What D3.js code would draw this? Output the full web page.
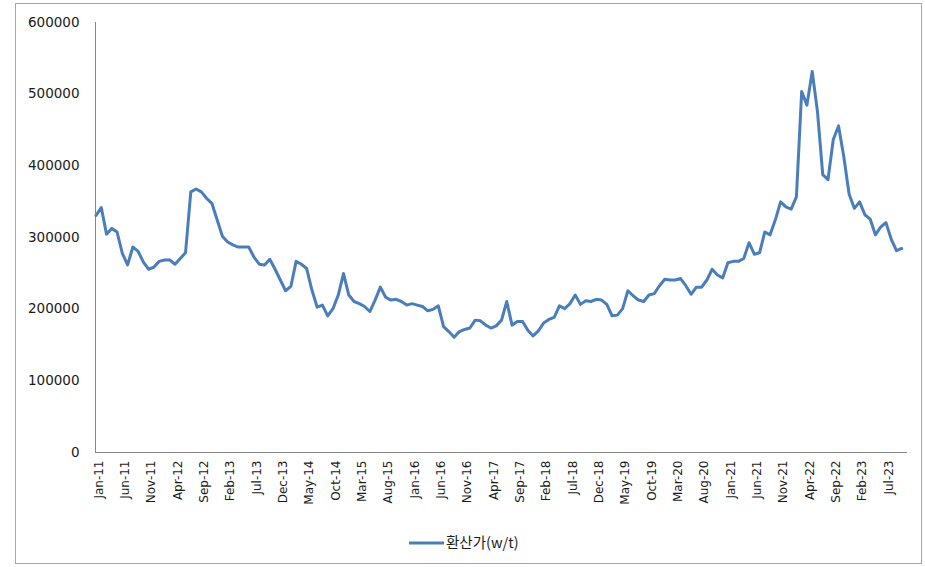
<!DOCTYPE html>
<html>
<head>
<meta charset="utf-8">
<script src="https://cdn.jsdelivr.net/npm/d3@7"></script>
<style>
  html, body { margin: 0; padding: 0; background: #fff; }
  svg { display: block; }
</style>
</head>
<body>
<svg id="chart" width="925" height="567"></svg>
<script>
// ---- data ----
const monthNames = ["Jan","Feb","Mar","Apr","May","Jun","Jul","Aug","Sep","Oct","Nov","Dec"];
const startYear = 2011;
const categoryCount = 155; // Jan-11 .. Nov-23
const categories = d3.range(categoryCount).map(i =>
  monthNames[i % 12] + "-" + String((startYear + Math.floor(i / 12)) % 100).padStart(2, "0"));

const seriesName = "환산가(w/t)";
const values = [
  330000, 341000, 304000, 312000, 307000, 277000, 261000, 286000, 280000, 265000,
  255000, 258000, 266000, 268000, 268000, 262000, 270000, 278000, 363000, 367000,
  363000, 354000, 347000, 324000, 301000, 293000, 289000, 286000, 286000, 286000,
  272000, 262000, 261000, 269000, 255000, 240000, 225000, 231000, 266000, 262000,
  256000, 226000, 202000, 205000, 190000, 200000, 219000, 249000, 219000, 210000,
  207000, 203000, 196000, 212000, 230000, 216000, 212000, 213000, 210000, 205000,
  207000, 205000, 203000, 197000, 199000, 204000, 175000, 168000, 160000, 168000,
  171000, 173000, 184000, 183000, 177000, 173000, 176000, 184000, 210000, 177000,
  182000, 182000, 170000, 162000, 169000, 180000, 185000, 188000, 204000, 200000,
  207000, 219000, 206000, 211000, 210000, 213000, 212000, 206000, 190000, 191000,
  200000, 225000, 218000, 212000, 210000, 219000, 221000, 232000, 241000, 240000,
  240000, 242000, 232000, 220000, 230000, 230000, 240000, 255000, 247000, 243000,
  264000, 266000, 266000, 270000, 292000, 276000, 278000, 307000, 303000, 324000,
  349000, 342000, 339000, 356000, 503000, 484000, 531000, 475000, 387000, 380000,
  436000, 455000, 412000, 360000, 340000, 349000, 331000, 325000, 303000, 314000,
  320000, 297000, 281000, 284000
];
const yTicks = [0, 100000, 200000, 300000, 400000, 500000, 600000];
const tickLabels = ["Jan-11","Jun-11","Nov-11","Apr-12","Sep-12","Feb-13","Jul-13","Dec-13",
  "May-14","Oct-14","Mar-15","Aug-15","Jan-16","Jun-16","Nov-16","Apr-17","Sep-17","Feb-18",
  "Jul-18","Dec-18","May-19","Oct-19","Mar-20","Aug-20","Jan-21","Jun-21","Nov-21","Apr-22",
  "Sep-22","Feb-23","Jul-23"];

// ---- drawing ----
const svg = d3.select("#chart");
const lineColor = "#4a7ebb";
const axisColor = "#868686";

svg.append("rect")
  .attr("x", 15.5).attr("y", 3.5).attr("width", 906).attr("height", 560)
  .attr("fill", "#fff").attr("stroke", "#a6a6a6").attr("stroke-width", 1);

const x = d3.scaleLinear().domain([0, categoryCount - 1]).range([96, 907]);
const y = d3.scaleLinear().domain([0, 600000]).range([452, 22]);

// y axis
const yAxis = d3.axisLeft(y).tickValues(yTicks).tickSize(0).tickPadding(16).tickFormat(d3.format("d"));
const gy = svg.append("g").attr("transform", "translate(95.5,0)").call(yAxis);
gy.select(".domain").attr("stroke", axisColor).attr("d", `M0,${y(600000)}V${y(0)}`);
gy.selectAll("text")
  .attr("font-family", "DejaVu Sans, Verdana, sans-serif")
  .attr("font-size", "13.5px")
  .attr("fill", "#1a1a1a");

// x axis
const tickIdx = tickLabels.map(l => categories.indexOf(l));
const xAxis = d3.axisBottom(x).tickValues(tickIdx).tickSize(0).tickFormat(i => categories[i]);
const gx = svg.append("g").attr("transform", `translate(0,${y(0) + 0.5})`).call(xAxis);
gx.select(".domain").attr("stroke", axisColor).attr("d", `M95,0H${x(categoryCount - 1)}`);
gx.selectAll("text")
  .attr("font-family", "DejaVu Sans, Verdana, sans-serif")
  .attr("font-size", "12px")
  .attr("fill", "#1a1a1a")
  .attr("text-anchor", "end")
  .attr("transform", "translate(2,8) rotate(-90)")
  .attr("x", 0).attr("y", 0).attr("dy", "0.35em");

// line
const line = d3.line().x((d, i) => x(i)).y(d => y(d));
svg.append("path")
  .datum(values)
  .attr("fill", "none")
  .attr("stroke", lineColor)
  .attr("stroke-width", 3)
  .attr("stroke-linejoin", "round")
  .attr("stroke-linecap", "round")
  .attr("d", line);

// legend
const lg = svg.append("g").attr("transform", "translate(409,543)");
lg.append("line").attr("x1", 0).attr("x2", 35).attr("y1", 0).attr("y2", 0)
  .attr("stroke", lineColor).attr("stroke-width", 3);
lg.append("text").attr("x", 37).attr("y", 0).attr("dy", "0.35em")
  .attr("font-family", "Noto Sans CJK KR, sans-serif")
  .attr("font-size", "14.5px")
  .attr("fill", "#1a1a1a")
  .text(seriesName);
</script>
</body>
</html>
